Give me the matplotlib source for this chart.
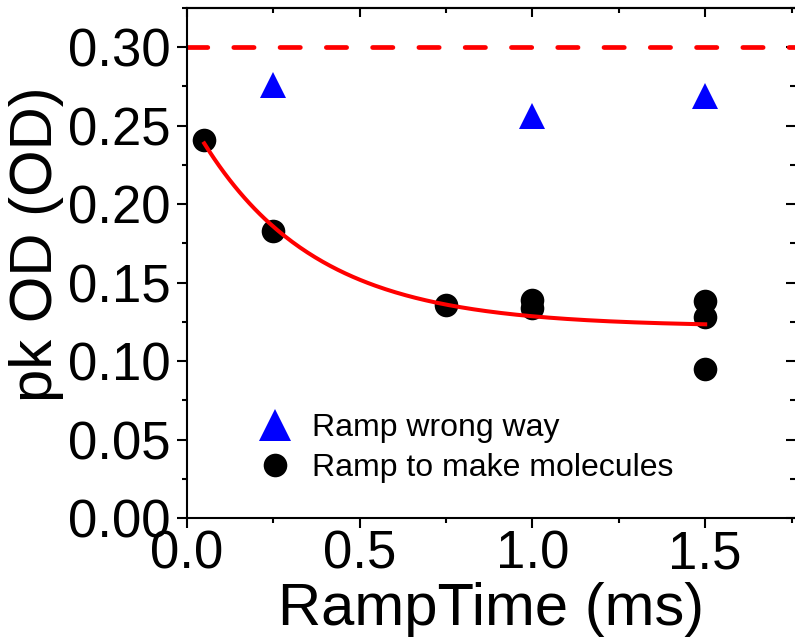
import numpy as np
import matplotlib
matplotlib.use('Agg')
import matplotlib.pyplot as plt
from matplotlib.ticker import MultipleLocator, FormatStrFormatter
from matplotlib.lines import Line2D

plt.rcParams['font.family'] = ['Liberation Sans', 'DejaVu Sans']

# ramp to make molecules
mol_t = [0.05, 0.25, 0.75, 1.0, 1.0, 1.5, 1.5, 1.5]
mol_od = [0.241, 0.183, 0.136, 0.139, 0.134, 0.138, 0.128, 0.095]

# ramp the wrong way
wrong_t = [0.25, 1.0, 1.5]
wrong_od = [0.276, 0.256, 0.269]

# exponential decay fit to the molecule points, y0 + A*exp(-t/tau)
fit_y0 = 0.1220
fit_A = 0.1358
fit_tau = 0.33
fit_t = np.linspace(0.05, 1.5, 200)
fit_od = fit_y0 + fit_A*np.exp(-fit_t/fit_tau)

ref_od = 0.30

fig = plt.figure(figsize=(7.95, 6.43), dpi=100)
ax = fig.add_axes([187/795, 125/643, 608/795, 510/643])

ax.axhline(ref_od, color='#ff0000', lw=3.4, ls=(0, (4.3, 5.5)),
           dash_capstyle='round', zorder=1)
ax.plot(wrong_t, wrong_od, ls='none', marker='^', ms=18.5, mew=0,
        color='#0000ff', zorder=3)
ax.plot(mol_t, mol_od, ls='none', marker='o', ms=17, mew=0,
        color='black', zorder=3)
ax.plot(fit_t, fit_od, color='#ff0000', lw=2.9, zorder=4)

ax.set_xlim(0, 1.76)
ax.set_ylim(0, 0.325)
ax.xaxis.set_major_locator(MultipleLocator(0.5))
ax.xaxis.set_minor_locator(MultipleLocator(0.25))
ax.yaxis.set_major_locator(MultipleLocator(0.05))
ax.yaxis.set_minor_locator(MultipleLocator(0.025))
ax.xaxis.set_major_formatter(FormatStrFormatter('%.1f'))
ax.yaxis.set_major_formatter(FormatStrFormatter('%.2f'))

for sp in ax.spines.values():
    sp.set_linewidth(1.5)
ax.spines['right'].set_visible(False)

ax.tick_params(which='both', direction='out', width=1.5, labelsize=38,
               top=False, right=False)
ax.tick_params(axis='y', pad=5)
ax.tick_params(axis='x', pad=1)
ax.tick_params(which='major', length=7)
ax.tick_params(which='minor', length=3.6)

# inward ticks on the top and right sides
top = ax.secondary_xaxis('top')
top.xaxis.set_major_locator(MultipleLocator(0.5))
top.xaxis.set_minor_locator(MultipleLocator(0.25))
right = ax.secondary_yaxis('right')
right.yaxis.set_major_locator(MultipleLocator(0.05))
right.yaxis.set_minor_locator(MultipleLocator(0.025))
for sec in (top, right):
    sec.tick_params(which='both', direction='in', width=1.5,
                    labeltop=False, labelright=False)
    sec.tick_params(which='major', length=6.5)
    sec.tick_params(which='minor', length=3.5)
    for sp in sec.spines.values():
        sp.set_linewidth(1.5)
right.spines['right'].set_visible(False)

ax.set_xlabel('RampTime (ms)', fontsize=43)
ax.set_ylabel('pk OD (OD)', fontsize=43)
ax.yaxis.set_label_coords(-0.203, 0.537)
ax.xaxis.set_label_coords(0.5, -0.126)

handles = [Line2D([], [], ls='none', marker='^', ms=23, mew=0, color='#0000ff'),
           Line2D([], [], ls='none', marker='o', ms=17, mew=0, color='black')]
ax.legend(handles, ['Ramp wrong way', 'Ramp to make molecules'],
          loc='lower left', bbox_to_anchor=(0.093, 0.044), frameon=False,
          fontsize=23, handletextpad=0.55, labelspacing=0.3,
          handlelength=1.2, borderaxespad=0)

fig.savefig('out.png', dpi=100)
